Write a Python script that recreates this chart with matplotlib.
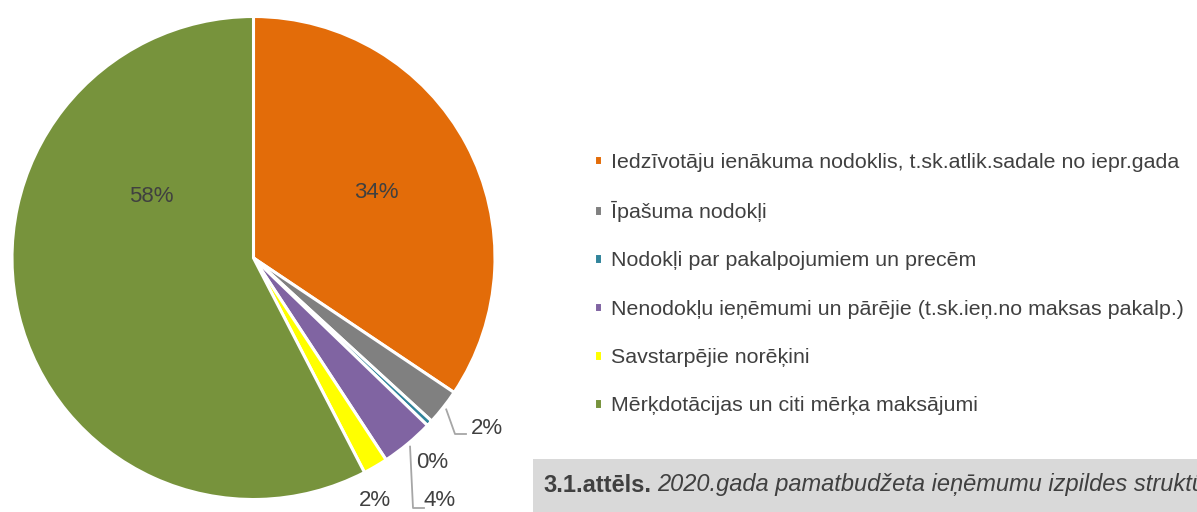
import matplotlib.pyplot as plt
import numpy as np
from matplotlib.patches import Rectangle

plt.rcParams['font.family'] = ['Liberation Sans', 'DejaVu Sans']

categories = [
    "Iedzīvotāju ienākuma nodoklis, t.sk.atlik.sadale no iepr.gada",
    "Īpašuma nodokļi",
    "Nodokļi par pakalpojumiem un precēm",
    "Nenodokļu ieņēmumi un pārējie (t.sk.ieņ.no maksas pakalp.)",
    "Savstarpējie norēķini",
    "Mērķdotācijas un citi mērķa maksājumi",
]
shares = [34.4, 2.4, 0.4, 3.55, 1.65, 57.6]
colors = ["#E36C09", "#808080", "#31849B", "#8064A2", "#FFFF00", "#77933C"]

caption_bold = "3.1.attēls."
caption_text = "2020.gada pamatbudžeta ieņēmumu izpildes struktūra"

txt_color = "#404040"

fig = plt.figure(figsize=(11.97, 5.12), dpi=100)
ax = fig.add_axes([0, 0, 1, 1])

cx, cy, R = 253.5, 254, 241.5
wedges, _ = ax.pie(shares, colors=colors, startangle=90, counterclock=False,
                   center=(cx, cy), radius=R,
                   wedgeprops=dict(edgecolor='white', linewidth=2.2))
# pie resets the limits, so set pixel-like limits afterwards
ax.set_xlim(0, 1197)
ax.set_ylim(0, 512)
ax.set_aspect('equal')
ax.axis('off')

total = sum(shares)
pct = ["%.0f%%" % (v / total * 100) for v in shares]

# label placement per slice: offset from centre, leader or not
label_pos = [(122.5, 65), (233.5, -170), (178.5, -205), (186.5, -243), (121.5, -243), (-102.5, 61)]
leader = [False, True, False, True, False, False]
for i, w in enumerate(wedges):
    dx, dy = label_pos[i]
    tx, ty = cx + dx, cy + dy
    ax.text(tx, ty, pct[i], ha='center', va='center', fontsize=16, color=txt_color)
    if leader[i]:
        mid = np.deg2rad((w.theta1 + w.theta2) / 2)
        sx, sy = cx + R * 1.015 * np.cos(mid), cy + R * 1.015 * np.sin(mid)
        if i == 3:
            ly = ty - 7
            ax.plot([sx, tx - 27, tx - 16], [sy, ly, ly], color='#A6A6A6', lw=1.3)
        else:
            ly = ty - 6
            ax.plot([sx, tx - 32, tx - 21], [sy, ly, ly], color='#A6A6A6', lw=1.3)

leg = ax.legend(wedges, categories, loc='center left', bbox_to_anchor=(594, 228),
                bbox_transform=ax.transData, frameon=False, fontsize=15.4,
                labelcolor=txt_color, handlelength=0.38, handleheight=0.38,
                handletextpad=0.4, labelspacing=1.37, borderpad=0, borderaxespad=0)

ax.add_patch(Rectangle((533, 0), 700, 53, facecolor='#D9D9D9', edgecolor='none'))
t1 = ax.text(543, 27, caption_bold, fontsize=17, fontweight='bold', color=txt_color,
             va='center', ha='left')
fig.canvas.draw()
bb = t1.get_window_extent().transformed(ax.transData.inverted())
ax.text(bb.x1 + 6, 27, caption_text, fontsize=17, fontstyle='italic', color=txt_color,
        va='center', ha='left')

fig.savefig("out.png", dpi=100)
